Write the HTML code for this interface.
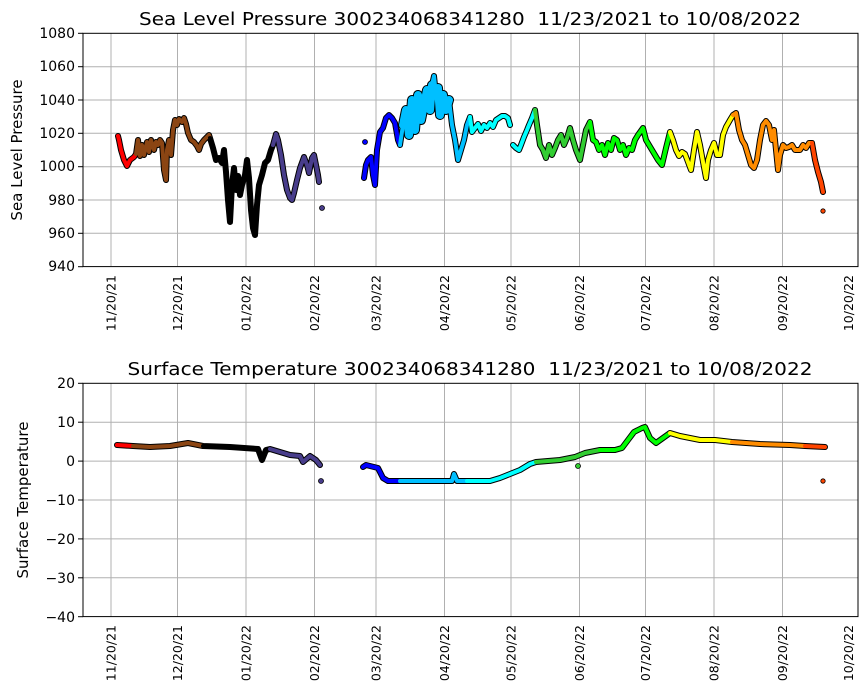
<!DOCTYPE html>
<html><head><meta charset="utf-8"><style>html,body{margin:0;padding:0;background:#fff}svg{display:block}text{font-family:"DejaVu Sans","Liberation Sans",sans-serif}</style></head><body>
<svg width="867" height="700" viewBox="0 0 867 700" xmlns="http://www.w3.org/2000/svg">
<g stroke="#b0b0b0" stroke-width="1">
<line x1="111" y1="33" x2="111" y2="266"/><line x1="177.5" y1="33" x2="177.5" y2="266"/><line x1="246" y1="33" x2="246" y2="266"/><line x1="314.5" y1="33" x2="314.5" y2="266"/><line x1="376" y1="33" x2="376" y2="266"/><line x1="444.5" y1="33" x2="444.5" y2="266"/><line x1="511" y1="33" x2="511" y2="266"/><line x1="579.5" y1="33" x2="579.5" y2="266"/><line x1="645.5" y1="33" x2="645.5" y2="266"/><line x1="714" y1="33" x2="714" y2="266"/><line x1="782.5" y1="33" x2="782.5" y2="266"/>
<line x1="83" y1="66.7" x2="858" y2="66.7"/><line x1="83" y1="100" x2="858" y2="100"/><line x1="83" y1="133.3" x2="858" y2="133.3"/><line x1="83" y1="166.7" x2="858" y2="166.7"/><line x1="83" y1="200" x2="858" y2="200"/><line x1="83" y1="233.3" x2="858" y2="233.3"/>
<line x1="111" y1="383" x2="111" y2="617"/><line x1="177.5" y1="383" x2="177.5" y2="617"/><line x1="246" y1="383" x2="246" y2="617"/><line x1="314.5" y1="383" x2="314.5" y2="617"/><line x1="376" y1="383" x2="376" y2="617"/><line x1="444.5" y1="383" x2="444.5" y2="617"/><line x1="511" y1="383" x2="511" y2="617"/><line x1="579.5" y1="383" x2="579.5" y2="617"/><line x1="645.5" y1="383" x2="645.5" y2="617"/><line x1="714" y1="383" x2="714" y2="617"/><line x1="782.5" y1="383" x2="782.5" y2="617"/>
<line x1="83" y1="422.2" x2="858" y2="422.2"/><line x1="83" y1="461.1" x2="858" y2="461.1"/><line x1="83" y1="500" x2="858" y2="500"/><line x1="83" y1="538.9" x2="858" y2="538.9"/><line x1="83" y1="577.8" x2="858" y2="577.8"/>
</g>
<g fill="none" stroke-linejoin="round" stroke-linecap="round">
<g stroke="#000" stroke-width="6">
<polyline points="118,136 119,140 121,150 124,160 127,166 130,160 134,157 136,154 138,140 140,156 142,145 144,155 147,142 149,152 151,140 154,150 156,142 158,145 160,140 162,143 164,170 166,180 167,150 169,140 171,155 173,130 175,120 177,125 179,119 182,122 184,118 186,124 188,133 191,140 194,142 197,146 199,150 201,144 204,140 206,138 209,135 210,138 213,148 216,160 219,158 222,163 224,150 226,172 228,200 230,222 232,185 234,168 236,190 238,176 240,195 242,185 245,175 247,160 249,178 251,210 253,228 255,235 257,205 259,185 262,175 265,163 268,160 271,150 273,145 276,134 278,140 281,155 284,175 287,190 290,198 292,200 294,193 297,180 300,168 304,157 307,165 309,173 312,158 314,155 316,165 318,175 319,182"/>
<polyline points="364,178 366,165 368,160 371,157 373,175 375,185 377,150 380,132 383,128 386,118 389,115 392,118 395,123 398,140 400,145 403,125 406,110 409,135 412,100 415,130 418,95 421,120 424,105 427,90 430,110 432,85 434,76 436,95 438,88 440,115 443,95 446,110 449,100 452,125 455,140 458,160 461,150 464,140 467,125 470,117 472,132 475,128 478,124 481,131 484,125 487,128 490,123 493,127 496,120 499,118 502,116 505,116 508,118 510,125"/>
<polyline stroke-width="10" points="403,125 406,110 409,135 412,100 415,130 418,95 421,120 424,105 427,90 430,110 432,85 436,95 438,88 440,115 443,95 446,110 449,100"/>
<polyline points="513,145 516,148 519,150 521,145 524,137 527,130 529,125 532,118 535,110 537,125 540,145 543,150 546,158 549,145 552,155 555,148 558,140 561,135 564,145 567,138 570,128 573,140 576,150 580,160 583,145 586,130 590,122 593,140 596,142 599,150 602,145 605,155 608,143 611,150 614,138 617,140 620,150 623,145 626,155 629,148 632,150 635,140 638,135 643,128 646,140 649,145 652,150 655,155 658,160 662,165 666,148 670,132 673,140 676,150 679,156 682,152 685,154 688,162 691,170 694,150 697,132 700,145 703,162 706,178 708,160 711,150 714,143 717,155 720,155 723,135 726,127 730,120 733,115 736,113 739,130 742,140 745,145 748,155 751,165 754,168 757,160 760,140 763,125 766,121 769,125 772,140 774,130 776,150 778,170 780,155 783,145 786,148 789,147 792,145 795,150 800,150 803,145 806,148 809,143 812,143 815,160 818,172 821,182 823,192"/>
<polyline points="117,445 133,446 150,447 170,446 188,443 203,446 230,447 258,449 262,460 266,450 270,449 280,452 290,455 300,456 303,462 310,456 316,460 320,465"/>
<polyline points="363,467 366,465 370,466 378,468 383,478 388,481 452,481 454,474 457,481 490,481 500,478 510,474 520,470 530,464 536,462 548,461 560,460 575,457 585,453 600,450 615,450 622,448 628,440 634,432 638,430 642,428 645,427 650,438 656,443 663,438 670,433 680,436 690,438 700,440 715,440 732,442 760,444 790,445 805,446 825,447"/>
</g>
<g stroke-width="4">
<polyline stroke="#ff0000" points="118,136 119,140 121,150 124,160 127,166 130,160 134,157 136,154"/>
<polyline stroke="#8b4513" points="136,154 138,140 140,156 142,145 144,155 147,142 149,152 151,140 154,150 156,142 158,145 160,140 162,143 164,170 166,180 167,150 169,140 171,155 173,130 175,120 177,125 179,119 182,122 184,118 186,124 188,133 191,140 194,142 197,146 199,150 201,144 204,140 206,138 209,135 210,138"/>
<polyline stroke="#000" points="210,138 213,148 216,160 219,158 222,163 224,150 226,172 228,200 230,222 232,185 234,168 236,190 238,176 240,195 242,185 245,175 247,160 249,178 251,210 253,228 255,235 257,205 259,185 262,175 265,163 268,160 271,150 273,145"/>
<polyline stroke="#483d8b" points="273,145 276,134 278,140 281,155 284,175 287,190 290,198 292,200 294,193 297,180 300,168 304,157 307,165 309,173 312,158 314,155 316,165 318,175 319,182"/>
<polyline stroke="#0000ff" points="364,178 366,165 368,160 371,157 373,175 375,185 377,150 380,132 383,128 386,118 389,115 392,118 395,123 398,140 400,145"/>
<polyline stroke="#00bfff" points="400,145 403,125 406,110 409,135 412,100 415,130 418,95 421,120 424,105 427,90 430,110 432,85 434,76 436,95 438,88 440,115 443,95 446,110 449,100 452,125 455,140 458,160 461,150 464,140 467,125 470,117"/>
<polyline stroke="#00bfff" stroke-width="8" points="403,125 406,110 409,135 412,100 415,130 418,95 421,120 424,105 427,90 430,110 432,85 436,95 438,88 440,115 443,95 446,110 449,100"/>
<polyline stroke="#00ffff" points="470,117 472,132 475,128 478,124 481,131 484,125 487,128 490,123 493,127 496,120 499,118 502,116 505,116 508,118 510,125"/>
<polyline stroke="#00ffff" points="513,145 516,148 519,150 521,145 524,137 527,130 529,125 532,118 535,110"/>
<polyline stroke="#32cd32" points="535,110 537,125 540,145 543,150 546,158 549,145 552,155 555,148 558,140 561,135 564,145 567,138 570,128 573,140 576,150 580,160 583,145 586,130 590,122"/>
<polyline stroke="#00ff00" points="590,122 593,140 596,142 599,150 602,145 605,155 608,143 611,150 614,138 617,140 620,150 623,145 626,155 629,148 632,150 635,140 638,135 643,128 646,140 649,145 652,150 655,155 658,160 662,165 666,148 670,132"/>
<polyline stroke="#ffff00" points="670,132 673,140 676,150 679,156 682,152 685,154 688,162 691,170 694,150 697,132 700,145 703,162 706,178 708,160 711,150 714,143 717,155 720,155 723,135 726,127 730,120 733,115"/>
<polyline stroke="#ff8c00" points="733,115 736,113 739,130 742,140 745,145 748,155 751,165 754,168 757,160 760,140 763,125 766,121 769,125 772,140 774,130 776,150 778,170 780,155 783,145 786,148 789,147 792,145 795,150 800,150 803,145 806,148 809,143 812,143"/>
<polyline stroke="#ff4500" points="812,143 815,160 818,172 821,182 823,192"/>
<polyline stroke="#ff0000" points="117,445 133,446"/>
<polyline stroke="#8b4513" points="133,446 150,447 170,446 188,443 203,446"/>
<polyline stroke="#000" points="203,446 230,447 258,449 262,460 266,450 270,449"/>
<polyline stroke="#483d8b" points="270,449 280,452 290,455 300,456 303,462 310,456 316,460 320,465"/>
<polyline stroke="#0000ff" points="363,467 366,465 370,466 378,468 383,478 388,481 400,481"/>
<polyline stroke="#00bfff" points="400,481 452,481 454,474 457,481 467,481"/>
<polyline stroke="#00ffff" points="467,481 490,481 500,478 510,474 520,470 530,464 536,462"/>
<polyline stroke="#32cd32" points="536,462 548,461 560,460 575,457 585,453 600,450"/>
<polyline stroke="#00ff00" points="600,450 615,450 622,448 628,440 634,432 638,430 642,428 645,427 650,438 656,443 663,438 670,433"/>
<polyline stroke="#ffff00" points="670,433 680,436 690,438 700,440 715,440 732,442"/>
<polyline stroke="#ff8c00" points="732,442 760,444 790,445 805,446"/>
<polyline stroke="#ff4500" points="805,446 825,447"/>
</g>
</g>
<g stroke="#000" stroke-width="0.8">
<circle cx="322" cy="208" r="2.5" fill="#483d8b"/><circle cx="365" cy="142" r="2.5" fill="#0000ff"/><circle cx="823" cy="211" r="2.2" fill="#ff4500"/>
<circle cx="321" cy="481" r="2.5" fill="#483d8b"/><circle cx="578" cy="466" r="2.5" fill="#32cd32"/><circle cx="823" cy="481" r="2.2" fill="#ff4500"/>
</g>
<g fill="none" stroke="#000" stroke-width="1">
<rect x="83" y="33.3" width="775" height="233.3"/>
<rect x="83" y="383.3" width="775" height="233.3"/>
</g>
<g stroke="#000" stroke-width="1">
<line x1="78" y1="33.3" x2="83" y2="33.3"/><line x1="78" y1="66.7" x2="83" y2="66.7"/><line x1="78" y1="100" x2="83" y2="100"/><line x1="78" y1="133.3" x2="83" y2="133.3"/><line x1="78" y1="166.7" x2="83" y2="166.7"/><line x1="78" y1="200" x2="83" y2="200"/><line x1="78" y1="233.3" x2="83" y2="233.3"/><line x1="78" y1="266.7" x2="83" y2="266.7"/>
<line x1="78" y1="383.3" x2="83" y2="383.3"/><line x1="78" y1="422.2" x2="83" y2="422.2"/><line x1="78" y1="461.1" x2="83" y2="461.1"/><line x1="78" y1="500" x2="83" y2="500"/><line x1="78" y1="538.9" x2="83" y2="538.9"/><line x1="78" y1="577.8" x2="83" y2="577.8"/><line x1="78" y1="616.7" x2="83" y2="616.7"/>
</g>
<g font-size="14" text-anchor="end" fill="#000">
<text x="75" y="38">1080</text><text x="75" y="71">1060</text><text x="75" y="105">1040</text><text x="75" y="138">1020</text><text x="75" y="171">1000</text><text x="75" y="205">980</text><text x="75" y="238">960</text><text x="75" y="271">940</text>
<text x="75" y="388">20</text><text x="75" y="427">10</text><text x="75" y="466">0</text><text x="75" y="505">−10</text><text x="75" y="544">−20</text><text x="75" y="583">−30</text><text x="75" y="622">−40</text>
</g>
<g font-size="12.5" text-anchor="end" fill="#000">
<text transform="translate(115.5,275) rotate(-90)">11/20/21</text><text transform="translate(182,275) rotate(-90)">12/20/21</text><text transform="translate(250.5,275) rotate(-90)">01/20/22</text><text transform="translate(319,275) rotate(-90)">02/20/22</text><text transform="translate(380.5,275) rotate(-90)">03/20/22</text><text transform="translate(449,275) rotate(-90)">04/20/22</text><text transform="translate(515.5,275) rotate(-90)">05/20/22</text><text transform="translate(584,275) rotate(-90)">06/20/22</text><text transform="translate(650,275) rotate(-90)">07/20/22</text><text transform="translate(718.5,275) rotate(-90)">08/20/22</text><text transform="translate(787,275) rotate(-90)">09/20/22</text><text transform="translate(853,275) rotate(-90)">10/20/22</text>
<text transform="translate(115.5,625) rotate(-90)">11/20/21</text><text transform="translate(182,625) rotate(-90)">12/20/21</text><text transform="translate(250.5,625) rotate(-90)">01/20/22</text><text transform="translate(319,625) rotate(-90)">02/20/22</text><text transform="translate(380.5,625) rotate(-90)">03/20/22</text><text transform="translate(449,625) rotate(-90)">04/20/22</text><text transform="translate(515.5,625) rotate(-90)">05/20/22</text><text transform="translate(584,625) rotate(-90)">06/20/22</text><text transform="translate(650,625) rotate(-90)">07/20/22</text><text transform="translate(718.5,625) rotate(-90)">08/20/22</text><text transform="translate(787,625) rotate(-90)">09/20/22</text><text transform="translate(853,625) rotate(-90)">10/20/22</text>
</g>
<g font-size="15" text-anchor="middle" fill="#000">
<text transform="translate(22,150) rotate(-90)">Sea Level Pressure</text>
<text transform="translate(28,500) rotate(-90)">Surface Temperature</text>
</g>
<g font-size="18" text-anchor="middle" fill="#000">
<text x="470" y="25" textLength="662" lengthAdjust="spacingAndGlyphs" xml:space="preserve">Sea Level Pressure 300234068341280  11/23/2021 to 10/08/2022</text>
<text x="470" y="375" textLength="685" lengthAdjust="spacingAndGlyphs" xml:space="preserve">Surface Temperature 300234068341280  11/23/2021 to 10/08/2022</text>
</g>
</svg>
</body></html>
